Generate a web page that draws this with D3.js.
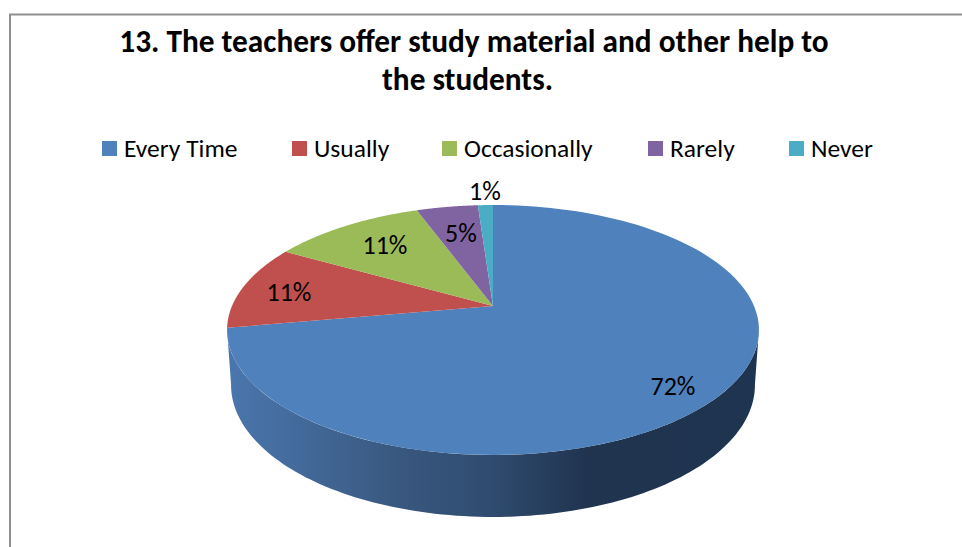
<!DOCTYPE html>
<html>
<head>
<meta charset="utf-8">
<script src="https://cdn.jsdelivr.net/npm/d3@7"></script>
<style>
  body { margin: 0; background: #fff; }
  text { font-family: Carlito, Lato, "Open Sans", sans-serif; fill: #000; }
</style>
</head>
<body>
<svg id="chart" width="962" height="547"></svg>
<script>
const titleLines = ['13. The teachers offer study material and other help to', 'the students.'];
const titleX = [474, 467.5];
const categories = ['Every Time', 'Usually', 'Occasionally', 'Rarely', 'Never'];
const values = [72.2, 11, 11.2, 4.5, 1.1];
const colors = ['#4f81bd', '#c0504d', '#9bbb59', '#8064a2', '#4bacc6'];
const legendX = [102, 292, 442, 648, 789];
const labelX = [673, 289, 385, 461, 485];
const labelY = [387, 293, 246, 234, 192];

const svg = d3.select('#chart');

// frame, cropped at the bottom and right of the picture
svg.append('path')
  .attr('d', 'M962,14.5H10V547')
  .attr('fill', 'none')
  .attr('stroke', '#8f8f8f')
  .attr('stroke-width', 2);

svg.selectAll('text.title')
  .data(titleLines)
  .enter().append('text')
  .attr('class', 'title')
  .attr('x', (d, i) => titleX[i])
  .attr('y', (d, i) => 52 + i * 38)
  .attr('text-anchor', 'middle')
  .attr('font-size', 31.3)
  .attr('font-weight', 'bold')
  .text(d => d);

svg.selectAll('rect.key')
  .data(categories)
  .enter().append('rect')
  .attr('class', 'key')
  .attr('x', (d, i) => legendX[i])
  .attr('y', 141)
  .attr('width', 15)
  .attr('height', 15)
  .attr('fill', (d, i) => colors[i]);

svg.selectAll('text.key')
  .data(categories)
  .enter().append('text')
  .attr('class', 'key')
  .attr('x', (d, i) => legendX[i] + 22)
  .attr('y', 157)
  .attr('font-size', 25.5)
  .text(d => d);

// tilted circle -> screen, apex sits above the ellipse centre because of the perspective
const cx = 493, persp = -0.192, spread = 261, lift = 61.6, apexY = 306;
function project(angle) {
  const u = Math.sin(angle), v = -Math.cos(angle);
  const w = 1 + persp * v;
  return [cx + spread * u / w, (lift * v + apexY) / w];
}
function rim(a0, a1) {
  return d3.range(0, 121).map(i => project(a0 + (a1 - a0) * i / 120));
}

// bottom rim is the top ellipse (centre y 330, ry 125, rx 266) redrawn a bit lower and rounder
const lowX = d3.scaleLinear().domain([cx - 266, cx + 266]).range([cx - 262, cx + 262]);
const lowY = d3.scaleLinear().domain([205, 455]).range([253, 517]);

const line = d3.line();
const pie = d3.pie().sort(null).value(d => d);
const arcs = pie(values);

const grad = svg.append('defs').append('linearGradient')
  .attr('id', 'wall')
  .attr('gradientUnits', 'userSpaceOnUse')
  .attr('x1', 231).attr('x2', 755).attr('y1', 0).attr('y2', 0);
[[0, '#4a76ad'], [0.32, '#39587f'], [0.5, '#2f4b6f'], [0.68, '#20344f'], [1, '#1f3450']].forEach(s => {
  grad.append('stop').attr('offset', s[0]).attr('stop-color', s[1]);
});

// side wall: front half of the rim, top and bottom
const front = rim(Math.PI * 0.56, Math.PI * 1.44);
const frontLow = rim(Math.PI * 1.44, Math.PI * 0.56).map(p => [lowX(p[0]), lowY(p[1])]);
svg.append('path')
  .attr('d', line(front.concat(frontLow)) + 'Z')
  .attr('fill', 'url(#wall)');

svg.selectAll('path.slice')
  .data(arcs)
  .enter().append('path')
  .attr('class', 'slice')
  .attr('d', d => line([[cx, apexY]].concat(rim(d.startAngle, d.endAngle))) + 'Z')
  .attr('fill', (d, i) => colors[i]);

svg.selectAll('text.pct')
  .data(values)
  .enter().append('text')
  .attr('class', 'pct')
  .attr('x', (d, i) => labelX[i])
  .attr('y', (d, i) => labelY[i] + 8)
  .attr('text-anchor', 'middle')
  .attr('font-size', 26)
  .text(d => d3.format('.0f')(d) + '%');
</script>
</body>
</html>
